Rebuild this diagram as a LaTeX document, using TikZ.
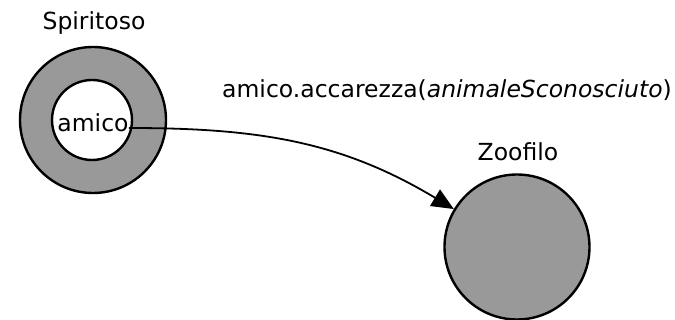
\documentclass[tikz,border=0pt]{standalone}
\usepackage{fontspec}
\setmainfont{DejaVu Sans}
\usetikzlibrary{arrows.meta}
\definecolor{ballgray}{RGB}{153,153,153}
\begin{document}
\begin{tikzpicture}[x=1pt,y=-1pt,
  ball/.style={circle,draw=black,line width=2.4pt,fill=ballgray,inner sep=0pt},
  hole/.style={circle,draw=black,line width=2.4pt,fill=white,inner sep=0pt},
  lbl/.style={inner sep=0pt,font=\fontsize{23.5}{28}\selectfont},
  conn/.style={line width=1.8pt,-{Triangle[length=22pt,width=19pt]}}]
\useasboundingbox (0,0) rectangle (675,320);
\node[ball,minimum size=146pt] (spiritoso) at (93,120) {};
\node[hole,minimum size=80pt] (amicoball) at (92,120) {};
\node[lbl] (amico) at (93,123) {amico};
\node[lbl] (spiritosolbl) at (94,23) {Spiritoso};
\node[ball,minimum size=145pt] (zoofilo) at (517,247) {};
\node[lbl] (zoofilolbl) at (518,152) {Zoofilo};
\node[lbl] (msg) at (447,90) {amico.accarezza(\textit{animaleSconosciuto})};
\draw[conn] ([yshift=-5pt]amico.east) to[out=0,in=149] (zoofilo);
\end{tikzpicture}
\end{document}
